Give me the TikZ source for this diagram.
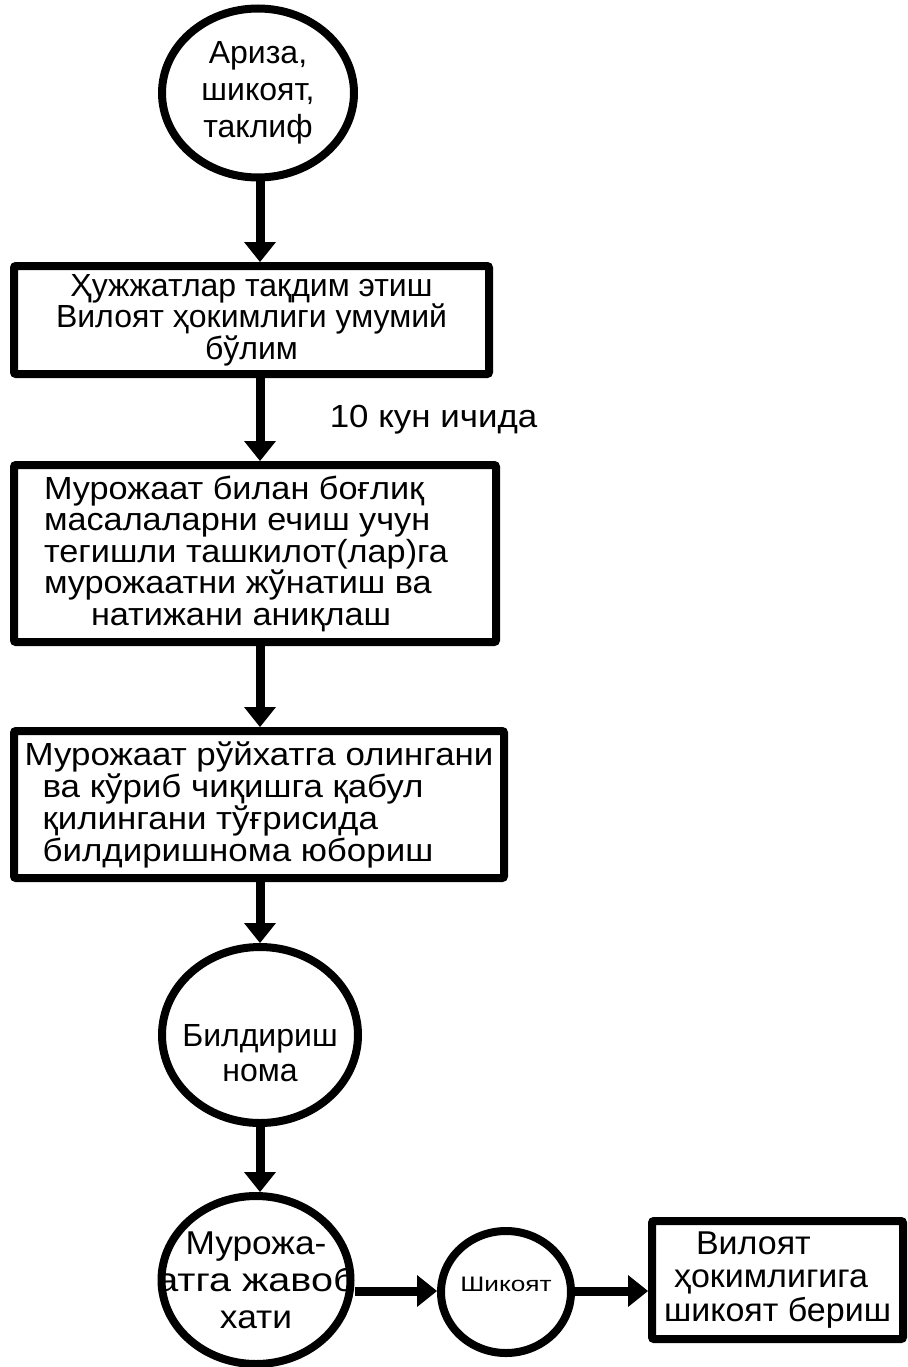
\documentclass[tikz,border=0pt]{standalone}
\usepackage{fontspec}
\usepackage{graphicx}
\setmainfont{Liberation Sans}
\newfontfamily\wideA[FakeStretch=1.07]{Liberation Sans}
\newfontfamily\wideB[FakeStretch=1.09]{Liberation Sans}
\newfontfamily\wideC[FakeStretch=1.03]{Liberation Sans}
\usetikzlibrary{shapes.geometric,arrows.meta}
\newcommand{\zl}[1]{\makebox[0pt][c]{#1}}
\begin{document}
\begin{tikzpicture}[x=1pt,y=-1pt,
  boxnode/.style={draw, line width=8pt, rounded corners=2pt, inner sep=0pt, font=\fontsize{32}{31.5}\selectfont},
  ovalnode/.style={draw, ellipse, line width=8pt, inner sep=0pt, align=center, font=\fontsize{32}{37}\selectfont},
  arr/.style={line width=9pt, -{Triangle[width=32pt,length=20pt,line width=0pt]}},
]
\useasboundingbox (0,0) rectangle (907,1367);
\coordinate (col) at (260,0);
\coordinate (row) at (0,1291);

\node[ovalnode, minimum width=192pt, minimum height=169pt] (c1) at (258,93)
  {\zl{Ариза,}\\\zl{шикоят,}\\\zl{таклиф}};

\node[boxnode, minimum width=475pt, minimum height=108pt, align=center] (b1) at (251.5,320)
  {Ҳужжатлар тақдим этиш\\Вилоят ҳокимлиги умумий\\бўлим};

\node[boxnode, minimum width=482pt, minimum height=177pt, align=left, font=\wideA\fontsize{32}{31.5}\selectfont] (b2) at (255,553.5)
  {Мурожаат билан боғлиқ\\масалаларни ечиш учун\\тегишли ташкилот(лар)га\hspace*{18pt}\null\\мурожаатни жўнатиш ва\\\hspace*{47pt}натижани аниқлаш};

\node[boxnode, minimum width=490pt, minimum height=147pt, align=left, font=\wideB\fontsize{32}{32}\selectfont] (b3) at (259,804.5)
  {Мурожаат рўйхатга олингани\\\hspace*{18pt}ва кўриб чиқишга қабул\\\hspace*{18pt}қилингани тўғрисида\\\hspace*{18pt}билдиришнома юбориш};

\node[ovalnode, minimum width=196pt, minimum height=176pt, font=\fontsize{32}{35}\selectfont] (c2) at (260,1035)
  {\zl{\rule{0pt}{58pt}Билдириш}\\\zl{нома}};

\node[ovalnode, minimum width=189pt, minimum height=168pt, font=\wideA\fontsize{33}{37}\selectfont] (c3) at (256,1280)
  {\zl{Мурожа-}\\\zl{\scalebox{1.12}[1]{атга жавоб}}\\\zl{хати}};

\node[ovalnode, minimum width=130pt, minimum height=122pt, font=\fontsize{21}{24}\selectfont] (c4) at (506,1292)
  {\zl{\scalebox{1.25}[1]{Шикоят}\rule[-16pt]{0pt}{1pt}}};

\node[boxnode, minimum width=251pt, minimum height=118pt, align=left, font=\wideC\fontsize{33}{33.5}\selectfont] (b4) at (777.5,1280)
  {\hspace*{32pt}Вилоят\\\hspace*{10pt}ҳокимлигига\\шикоят бериш};

\draw[arr] (c1.south -| col) -- (b1.north -| col);
\draw[arr] (b1.south -| col) -- (b2.north -| col)
  node[midway, anchor=west, xshift=62pt, font=\wideB\fontsize{32}{32}\selectfont] (lbl) {10 кун ичида};
\draw[arr] (b2.south -| col) -- (b3.north -| col);
\draw[arr] (b3.south -| col) -- (c2.north -| col);
\draw[arr] (c2.south -| col) -- (c3.north -| col);
\draw[arr] (c3.east |- row) -- (c4.west |- row);
\draw[arr] (c4.east |- row) -- (b4.west |- row);
\end{tikzpicture}
\end{document}
